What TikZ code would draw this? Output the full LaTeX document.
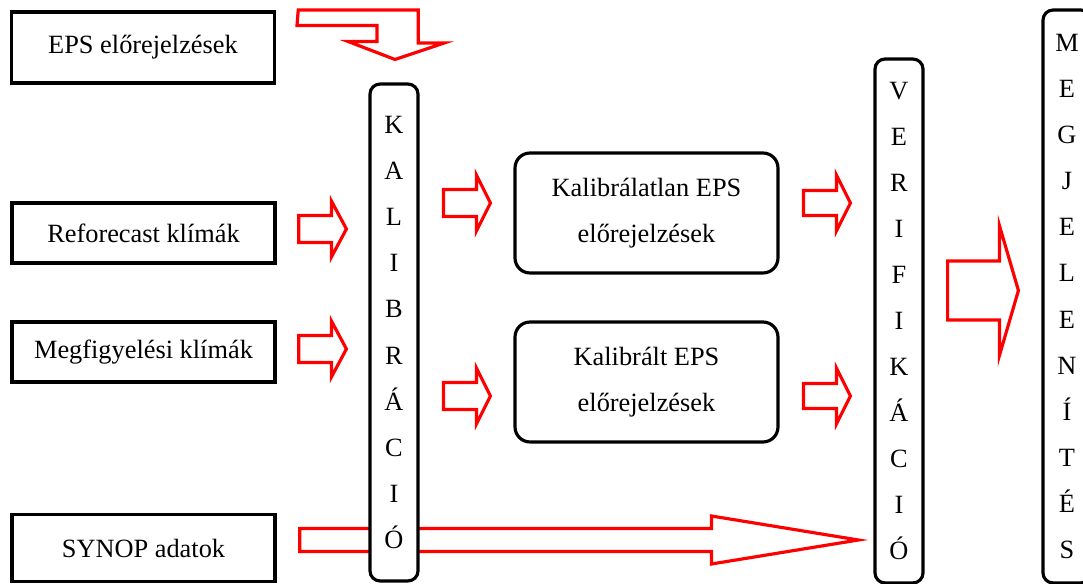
\documentclass[tikz,border=0pt]{standalone}
\usepackage{fontspec}
\setmainfont{Liberation Serif}
\usepackage{xcolor}
\usetikzlibrary{positioning, calc, backgrounds}

% hollow block arrow: tail, tip, head length, shaft half width, head half width
\newcommand{\fatarrow}[5]{%
  \draw[redarrow] let \p1=#1, \p2=#2 in
    (\x1,\y2+#4) -- (\x2-#3,\y2+#4) -- (\x2-#3,\y2+#5) -- (\x2,\y2)
    -- (\x2-#3,\y2-#5) -- (\x2-#3,\y2-#4) -- (\x1,\y2-#4) -- cycle;}

\begin{document}
\begin{tikzpicture}[
  x=0.02cm, y=-0.02cm,
  font=\fontsize{15}{26.2}\selectfont,
  plainbox/.style={draw, line width=2pt, minimum width=5.26cm,
    minimum height=1.2cm, inner sep=0pt, fill=white},
  roundbox/.style={draw, line width=1.8pt, rounded corners=0.3cm,
    minimum width=5.26cm, minimum height=2.4cm, align=center, fill=white},
  barbox/.style={draw, line width=1.8pt, rounded corners=0.2cm,
    minimum width=0.96cm, inner sep=0pt, align=center, fill=white},
  redarrow/.style={draw=red, line width=1.8pt, line join=miter}
]
\useasboundingbox (0,0) rectangle (1083,584);
\clip (0,0) rectangle (1083,584);

% input boxes
\node[plainbox, minimum height=1.42cm] (eps) at (143,47.5) {EPS előrejelzések};
\node[plainbox] (refo) at (143.5,233) {Reforecast klímák};
\node[plainbox] (megf) at (143.5,352) {Megfigyelési klímák};
\node[plainbox, minimum height=1.34cm] (synop) at (143.5,548) {SYNOP adatok};

% vertical steps
\node[barbox, minimum height=9.94cm] (kal) at (394,332.5)
  {K\\A\\L\\I\\B\\R\\Á\\C\\I\\Ó};
\node[barbox, minimum height=10.48cm] (verif) at (899,321)
  {V\\E\\R\\I\\F\\I\\K\\Á\\C\\I\\Ó};
\node[barbox, minimum height=11.46cm] (megj) at (1067,296.5)
  {M\\E\\G\\J\\E\\L\\E\\N\\Í\\T\\É\\S};

% forecasts
\node[roundbox] (kalatlan) at (646.5,213) {Kalibrálatlan EPS\\előrejelzések};
\node[roundbox] (kalibralt) at (646.5,382) {Kalibrált EPS\\előrejelzések};

\begin{scope}[on background layer]
  % bent arrow from the EPS box down onto the bar
  \coordinate (bt) at ($(kal.north)+(1,-23)$);
  \draw[redarrow] ($(eps.east)+(22,-37.5)$) -- ++(120,0) -- ++(0,33)
    -- ++(26,0) -- (bt) -- ++(-47,-18) -- ++(29,0) -- ++(0,-16) -- ++(-80,0) -- cycle;
  \fatarrow{($(refo.east)+(22,-4)$)}{($(kal.west |- refo.east)+(-22,-4)$)}{0.3cm}{0.27cm}{0.56cm}
  \fatarrow{($(megf.east)+(22,-3)$)}{($(kal.west |- megf.east)+(-22,-3)$)}{0.3cm}{0.27cm}{0.56cm}
  \fatarrow{($(kal.east |- kalatlan.west)+(24,-10)$)}{($(kalatlan.west)+(-23,-10)$)}{0.28cm}{0.27cm}{0.56cm}
  \fatarrow{($(kal.east |- kalibralt.west)+(24,14)$)}{($(kalibralt.west)+(-23,14)$)}{0.28cm}{0.27cm}{0.56cm}
  \fatarrow{($(kalatlan.east)+(24,-10)$)}{($(verif.west |- kalatlan.east)+(-23,-10)$)}{0.28cm}{0.25cm}{0.56cm}
  \fatarrow{($(kalibralt.east)+(24,14)$)}{($(verif.west |- kalibralt.east)+(-23,14)$)}{0.28cm}{0.25cm}{0.56cm}
  \fatarrow{($(verif.east |- megj.west)+(23,-6)$)}{($(megj.west)+(-23,-6)$)}{0.38cm}{0.59cm}{1.3cm}
  \fatarrow{($(synop.east)+(23,-8)$)}{($(verif.west |- synop.east)+(-15,-8)$)}{2.94cm}{0.23cm}{0.48cm}
\end{scope}
\end{tikzpicture}
\end{document}
